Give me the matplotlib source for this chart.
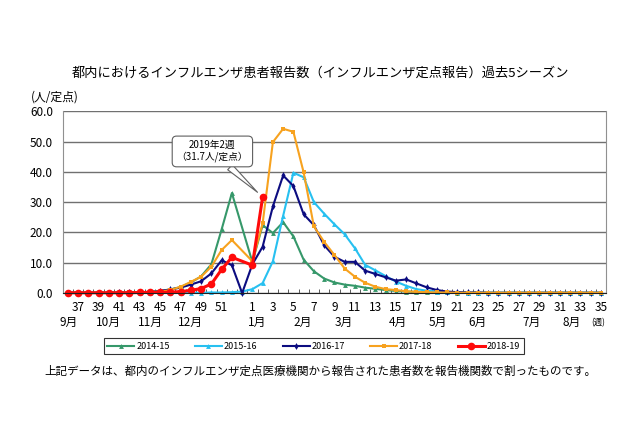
import numpy as np
import matplotlib
matplotlib.use('Agg')
import matplotlib.pyplot as plt
from matplotlib.ticker import FixedLocator

plt.rcParams['font.family'] = ['Noto Sans CJK JP', 'DejaVu Sans']

nan = np.nan

# 週 (36週 ~ 52週, 53週, 1週 ~ 35週)
weeks = list(range(36, 54)) + list(range(1, 36))

s2014 = [0.1, 0.1, 0.1, 0.1, 0.1, 0.1, 0.2, 0.2, 0.4, 0.7, 1.2, 2.0, 3.5, 5.5, 9.5, 21.0, 33.0, nan,
         10.2, 22.4, 19.8, 23.4, 18.7, 11.0, 7.2, 4.8, 3.5, 2.8, 2.4, 1.8, 1.4, 1.0, 0.7, 0.5, 0.4,
         0.3, 0.2, 0.2, 0.1, 0.1, 0.1, 0.1, 0.1, 0.1, 0.1, 0.1, 0.1, 0.1, 0.1, 0.1, 0.1, 0.1, 0.1]
s2015 = [0.1, 0.1, 0.1, 0.1, 0.1, 0.1, 0.1, 0.1, 0.1, 0.1, 0.1, 0.1, 0.1, 0.1, 0.2, 0.2, 0.3, 0.5,
         1.3, 3.3, 10.5, 25.5, 39.7, 38.2, 30.0, 26.2, 22.7, 19.4, 14.8, 9.3, 7.5, 5.6, 3.8, 2.4, 1.3,
         0.8, 0.5, 0.3, 0.2, 0.1, 0.1, 0.1, 0.1, 0.1, 0.1, 0.1, 0.1, 0.1, 0.1, 0.1, 0.1, 0.1, 0.1]
s2016 = [0.1, 0.1, 0.1, 0.1, 0.1, 0.2, 0.2, 0.3, 0.4, 0.7, 1.2, 1.8, 2.8, 3.9, 6.5, 10.8, 9.2, 0.0,
         9.5, 15.3, 28.6, 38.8, 35.3, 26.0, 22.4, 15.8, 12.0, 10.3, 10.3, 7.4, 6.3, 5.2, 4.1, 4.5, 3.2,
         1.9, 1.0, 0.5, 0.3, 0.2, 0.2, 0.1, 0.1, 0.1, 0.1, 0.1, 0.1, 0.1, 0.1, 0.1, 0.1, 0.1, 0.1]
s2017 = [0.1, 0.1, 0.1, 0.1, 0.1, 0.1, 0.2, 0.3, 0.4, 0.5, 1.0, 2.1, 3.7, 5.4, 8.7, 14.2, 17.5, nan,
         10.5, 23.0, 49.8, 54.2, 53.2, 39.8, 22.0, 16.9, 12.6, 8.1, 5.4, 3.4, 2.1, 1.3, 1.0, 0.6, 0.4,
         0.3, 0.2, 0.2, 0.1, 0.1, 0.1, 0.1, 0.1, 0.1, 0.1, 0.1, 0.1, 0.1, 0.1, 0.1, 0.1, 0.1, 0.1]
s2018 = [0.1, 0.1, 0.1, 0.1, 0.1, 0.1, 0.1, 0.2, 0.2, 0.2, 0.3, 0.5, 0.9, 1.5, 3.0, 7.8, 11.8, nan,
         9.2, 31.7] + [nan] * 33

season_names = ['2014-15', '2015-16', '2016-17', '2017-18', '2018-19']
months = ['9月', '10月', '11月', '12月', '1月', '2月', '3月', '4月', '5月', '6月', '7月', '8月']
month_pos = [0.1, 4.0, 8.1, 12.0, 18.5, 22.9, 26.9, 32.2, 36.1, 40.0, 45.2, 49.1]

x = np.arange(len(weeks))

fig = plt.figure(figsize=(6.4, 4.26), dpi=100)
ax = fig.add_axes([0.098, 0.312, 0.849, 0.427])

styles = [
    dict(color='#36986a', marker='^', ms=3.5, lw=1.5),
    dict(color='#27c0f0', marker='^', ms=3.5, lw=1.5),
    dict(color='#0c0c80', marker='d', ms=3.5, lw=1.5),
    dict(color='#f7a21f', marker='s', ms=3.5, lw=1.5),
    dict(color='#ff0a0a', marker='o', ms=5.5, lw=2.2),
]
for name, vals, st in zip(season_names, [s2014, s2015, s2016, s2017, s2018], styles):
    y = np.array(vals, dtype=float)
    m = ~np.isnan(y)
    ax.plot(x[m], y[m], label=name, color=st['color'], marker=st['marker'],
            markersize=st['ms'], linewidth=st['lw'], markeredgewidth=0, clip_on=False)

ax.set_xlim(-0.5, len(weeks) - 0.5)
ax.set_ylim(0, 60)
ax.set_yticks(np.arange(0, 61, 10))
ax.set_yticklabels([f'{v:.1f}' for v in np.arange(0, 61, 10)], fontsize=8.5)
ax.grid(axis='y', color='#707070', linewidth=1.0)
ax.set_axisbelow(True)

# x 目盛り（奇数週のみ、53週は表示なし）
lab_idx = [i for i, w in enumerate(weeks) if w % 2 == 1 and w != 53]
ax.set_xticks(lab_idx)
ax.set_xticklabels([str(weeks[i]) for i in lab_idx], fontsize=8.5)
ax.tick_params(axis='x', which='major', length=0, pad=6)
ax.tick_params(axis='y', length=0, pad=7)
ax.xaxis.set_minor_locator(FixedLocator(np.arange(-0.5, len(weeks), 1)))
ax.tick_params(axis='x', which='minor', length=3, direction='in', color='#404040')

for sp in ['left', 'right', 'top']:
    ax.spines[sp].set_color('#909090')
ax.spines['top'].set_visible(False)
ax.spines['bottom'].set_color('#202020')

for mname, pos in zip(months, month_pos):
    ax.annotate(mname, xy=(pos, 0), xycoords=('data', 'axes fraction'),
                xytext=(0, -21), textcoords='offset points', ha='center', va='center', fontsize=8.5)
ax.annotate('(週)', xy=(51.7, 0), xycoords=('data', 'axes fraction'),
            xytext=(0, -21), textcoords='offset points', ha='center', va='center', fontsize=6)

fig.text(0.085, 0.772, '(人/定点)', ha='center', va='center', fontsize=8.5)
fig.text(0.5, 0.829, '都内におけるインフルエンザ患者報告数（インフルエンザ定点報告）過去5シーズン',
         ha='center', va='center', fontsize=9.5)

ax.annotate('2019年2週\n（31.7人/定点）', xy=(19, 31.7), xytext=(14.1, 46.8),
            ha='center', va='center', fontsize=7, linespacing=1.2,
            bbox=dict(boxstyle='round,pad=0.45', fc='white', ec='#606060', lw=0.8),
            arrowprops=dict(arrowstyle='wedge,tail_width=0.7', fc='white', ec='#606060',
                            lw=0.8, shrinkA=0, shrinkB=5))

leg = fig.legend(loc='center', bbox_to_anchor=(0.49, 0.187), ncol=5, fontsize=6.5,
                 frameon=True, fancybox=False, edgecolor='black', columnspacing=2.8,
                 handlelength=3, borderpad=0.4, handletextpad=0.2)
leg.get_frame().set_linewidth(0.8)

fig.text(0.5, 0.128, '上記データは、都内のインフルエンザ定点医療機関から報告された患者数を報告機関数で割ったものです。',
         ha='center', va='center', fontsize=8.3)

fig.savefig('out.png', dpi=100)
